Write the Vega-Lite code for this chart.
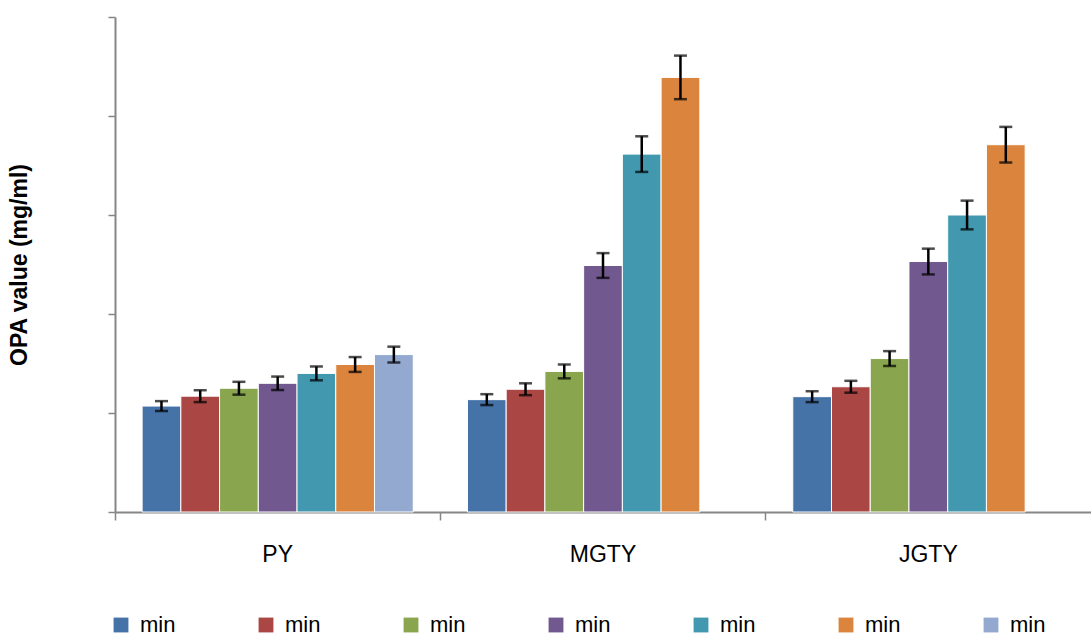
{
  "$schema": "https://vega.github.io/schema/vega-lite/v6.json",
  "autosize": "none",
  "width": 976,
  "height": 495,
  "padding": {"left": 115, "top": 17, "right": 0, "bottom": 124},
  "background": "white",
  "config": {
    "view": {"stroke": null},
    "font": "Liberation Sans"
  },
  "data": {
    "values": [
      {"group": "PY", "series": "s1", "value": 1.07, "lo": 1.02, "hi": 1.12},
      {"group": "PY", "series": "s2", "value": 1.17, "lo": 1.11, "hi": 1.23},
      {"group": "PY", "series": "s3", "value": 1.25, "lo": 1.185, "hi": 1.315},
      {"group": "PY", "series": "s4", "value": 1.30, "lo": 1.232, "hi": 1.368},
      {"group": "PY", "series": "s5", "value": 1.40, "lo": 1.33, "hi": 1.47},
      {"group": "PY", "series": "s6", "value": 1.49, "lo": 1.415, "hi": 1.565},
      {"group": "PY", "series": "s7", "value": 1.59, "lo": 1.51, "hi": 1.67},
      {"group": "MGTY", "series": "s1", "value": 1.135, "lo": 1.08, "hi": 1.19},
      {"group": "MGTY", "series": "s2", "value": 1.24, "lo": 1.18, "hi": 1.30},
      {"group": "MGTY", "series": "s3", "value": 1.42, "lo": 1.35, "hi": 1.49},
      {"group": "MGTY", "series": "s4", "value": 2.49, "lo": 2.365, "hi": 2.615},
      {"group": "MGTY", "series": "s5", "value": 3.615, "lo": 3.435, "hi": 3.795},
      {"group": "MGTY", "series": "s6", "value": 4.39, "lo": 4.17, "hi": 4.61},
      {"group": "JGTY", "series": "s1", "value": 1.165, "lo": 1.11, "hi": 1.22},
      {"group": "JGTY", "series": "s2", "value": 1.265, "lo": 1.205, "hi": 1.325},
      {"group": "JGTY", "series": "s3", "value": 1.55, "lo": 1.475, "hi": 1.625},
      {"group": "JGTY", "series": "s4", "value": 2.53, "lo": 2.40, "hi": 2.66},
      {"group": "JGTY", "series": "s5", "value": 3.0, "lo": 2.855, "hi": 3.145},
      {"group": "JGTY", "series": "s6", "value": 3.71, "lo": 3.53, "hi": 3.89}
    ]
  },
  "encoding": {
    "x": {
      "field": "group",
      "type": "nominal",
      "sort": ["PY", "MGTY", "JGTY"],
      "scale": {"paddingInner": 0, "paddingOuter": 0},
      "axis": {
        "title": null,
        "labelAngle": 0,
        "bandPosition": 0,
        "labelFontSize": 23,
        "labelColor": "#000000",
        "labelPadding": 23,
        "labelBaseline": "top",
        "tickSize": 8,
        "tickColor": "#868686",
        "tickWidth": 1.5,
        "domainColor": "#868686",
        "domainWidth": 2,
        "grid": false
      }
    },
    "xOffset": {
      "field": "series",
      "type": "nominal",
      "scale": {"domain": ["s1", "s2", "s3", "s4", "s5", "s6", "s7"], "paddingInner": 0, "paddingOuter": 0.7}
    }
  },
  "layer": [
    {
      "mark": {"type": "bar", "stroke": "white", "strokeWidth": 1},
      "encoding": {
        "y": {
          "field": "value",
          "type": "quantitative",
          "scale": {"domain": [0, 5], "nice": false},
          "axis": {
            "title": "OPA value (mg/ml)",
            "titleFontSize": 23,
            "titleFontWeight": "bold",
            "titleColor": "#000000",
            "titlePadding": 76,
            "labels": false,
            "values": [0, 1, 2, 3, 4, 5],
            "tickSize": 7,
            "tickColor": "#868686",
            "tickWidth": 1.5,
            "domainColor": "#868686",
            "domainWidth": 2,
            "grid": false
          }
        },
        "color": {
          "field": "series",
          "type": "nominal",
          "scale": {
            "domain": ["s1", "s2", "s3", "s4", "s5", "s6", "s7"],
            "range": ["#4572A7", "#AA4643", "#89A54E", "#71588F", "#4198AF", "#DB843D", "#93A9CF"]
          },
          "legend": {
            "title": null,
            "orient": "none",
            "legendX": -5,
            "legendY": 597,
            "direction": "horizontal",
            "columns": 7,
            "columnPadding": 79,
            "symbolType": "square",
            "symbolSize": 220,
            "symbolStrokeWidth": 0,
            "labelExpr": "'min'",
            "labelFontSize": 22,
            "labelColor": "#000000",
            "labelOffset": 8
          }
        }
      }
    },
    {
      "mark": {"type": "rule", "color": "black", "strokeWidth": 2.5},
      "encoding": {
        "y": {"field": "lo", "type": "quantitative"},
        "y2": {"field": "hi"}
      }
    },
    {
      "mark": {"type": "tick", "orient": "horizontal", "color": "black", "thickness": 2.5, "size": 13},
      "encoding": {
        "y": {"field": "lo", "type": "quantitative"}
      }
    },
    {
      "mark": {"type": "tick", "orient": "horizontal", "color": "black", "thickness": 2.5, "size": 13},
      "encoding": {
        "y": {"field": "hi", "type": "quantitative"}
      }
    }
  ]
}
